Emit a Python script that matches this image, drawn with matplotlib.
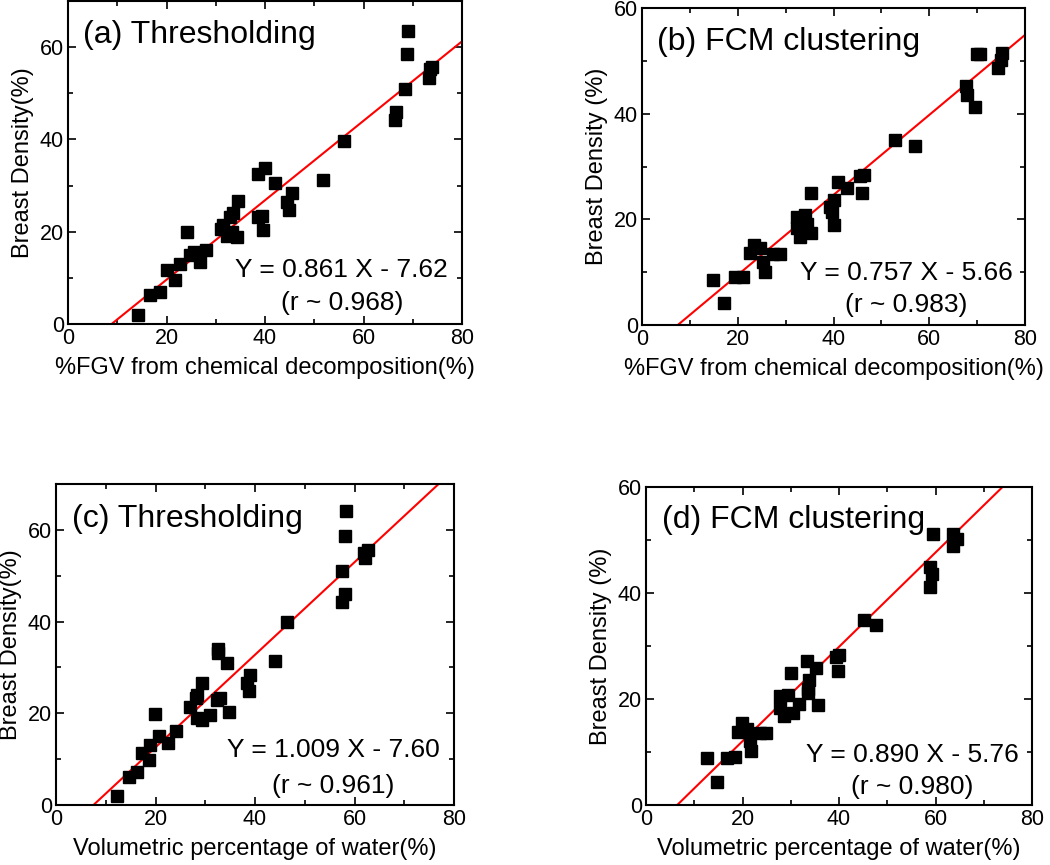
import numpy as np
import matplotlib
matplotlib.use('Agg')
import matplotlib.pyplot as plt
from matplotlib.ticker import MultipleLocator

plt.rcParams['font.family'] = ['Liberation Sans', 'DejaVu Sans']

# (a) thresholding vs %FGV
fgv_a = [14.3, 16.6, 18.7, 20.0, 21.7, 22.7, 24.8, 25.5, 26.8, 24.1,
         28.0, 31.0, 31.5, 32.9, 33.6, 34.5, 32.2, 34.3, 33.2, 38.5,
         39.4, 39.5, 38.6, 40.1, 42.0, 45.5, 44.5, 44.9, 51.8, 56.0,
         66.4, 66.7, 68.4, 68.8, 69.1, 73.2, 73.5, 74.0]
thr_a = [1.9, 6.3, 7.0, 11.7, 9.6, 13.1, 14.9, 15.5, 13.5, 19.9,
         16.1, 20.5, 21.4, 23.2, 24.0, 26.6, 19.0, 18.9, 19.9, 23.1,
         23.5, 20.3, 32.5, 33.8, 30.6, 28.4, 26.4, 24.8, 31.2, 39.7,
         44.2, 45.9, 50.9, 58.5, 63.6, 53.4, 55.2, 55.8]

# (b) FCM vs %FGV
fgv_b = [14.9, 17.1, 19.4, 21.2, 22.6, 23.4, 24.6, 25.3, 25.6, 27.4,
         28.8, 32.3, 32.3, 32.9, 34.0, 34.4, 35.2, 35.2, 39.3, 39.6,
         40.2, 40.2, 40.9, 42.8, 45.5, 46.4, 45.9, 52.8, 57.0, 67.6,
         67.8, 69.6, 70.0, 70.5, 74.4, 75.0, 75.1]
fcm_b = [8.6, 4.2, 9.0, 9.1, 13.6, 15.1, 14.5, 12.0, 10.1, 13.4,
         13.4, 20.5, 18.3, 16.7, 20.8, 19.2, 24.9, 17.4, 22.4, 21.3,
         23.7, 18.9, 27.1, 25.9, 28.2, 28.4, 25.0, 35.0, 33.9, 45.2,
         43.5, 41.2, 51.2, 51.2, 48.7, 50.2, 51.4]

# (c) thresholding vs water
water_c = [12.2, 14.7, 16.2, 17.2, 18.6, 18.9, 20.8, 22.6, 19.9, 24.1,
           26.9, 28.1, 28.3, 29.3, 28.3, 31.0, 29.3, 32.6, 32.6, 34.3,
           33.0, 32.4, 34.8, 39.0, 38.3, 38.7, 44.0, 46.5, 57.5, 58.0,
           58.3, 58.1, 57.5, 62.1, 62.8, 61.9]
thr_c = [2.0, 6.2, 7.1, 11.3, 9.8, 13.1, 15.1, 13.5, 19.9, 16.2,
         21.4, 23.3, 24.0, 26.7, 19.0, 19.7, 18.6, 33.2, 34.0, 31.0,
         23.3, 23.0, 20.2, 28.4, 26.6, 24.8, 31.3, 39.8, 51.0, 58.7,
         64.1, 46.1, 44.2, 53.9, 55.7, 55.0]

# (d) FCM vs water
water_d = [12.7, 14.7, 16.7, 18.4, 19.8, 19.1, 20.9, 21.6, 21.8, 23.6, 24.9,
           27.8, 27.8, 28.7, 29.5, 30.5, 30.0, 31.8, 33.4, 33.8, 33.6,
           33.6, 35.2, 35.7, 39.4, 40.1, 39.7, 45.2, 47.6, 58.9, 59.3,
           58.9, 59.4, 63.6, 64.4, 63.6]
fcm_d = [8.8, 4.3, 8.9, 9.1, 15.5, 13.8, 14.4, 12.1, 10.2, 13.5, 13.5,
         20.5, 18.3, 16.8, 20.8, 17.4, 25.0, 19.1, 27.1, 23.6, 21.9,
         21.2, 25.8, 18.9, 28.0, 28.3, 25.2, 34.9, 34.0, 44.9, 43.5,
         41.1, 51.2, 48.8, 50.2, 51.2]

# fit parameters (slope, intercept, r)
fits = [(0.861, -7.62, 0.968), (0.757, -5.66, 0.983),
        (1.009, -7.60, 0.961), (0.890, -5.76, 0.980)]
titles = ['(a) Thresholding', '(b) FCM clustering', '(c) Thresholding', '(d) FCM clustering']
xlabels = ['%FGV from chemical decomposition(%)', '%FGV from chemical decomposition(%)',
           'Volumetric percentage of water(%)', 'Volumetric percentage of water(%)']
ylabels = ['Breast Density(%)', 'Breast Density (%)', 'Breast Density(%)', 'Breast Density (%)']
ylims = [70, 60, 70, 60]

xs = [fgv_a, fgv_b, water_c, water_d]
ys = [thr_a, fcm_b, thr_c, fcm_d]

W, H = 1050, 865
# axes boxes in pixels: left, top, right, bottom
boxes = [(68, 1, 462, 324), (642, 8, 1025, 325), (56, 484, 454, 805), (646, 487, 1032, 805)]
# text placement in axes fraction
eq_pos = [(0.695, 0.145, 0.043), (0.69, 0.142, 0.042), (0.696, 0.15, 0.036), (0.69, 0.136, 0.035)]
title_pos = [(0.038, 0.87), (0.039, 0.867), (0.04, 0.866), (0.041, 0.871)]

fig = plt.figure(figsize=(W / 100, H / 100), dpi=100)

for i in range(4):
    l, t, r, b = boxes[i]
    ax = fig.add_axes([l / W, (H - b) / H, (r - l) / W, (b - t) / H])
    ax.plot(xs[i], ys[i], 's', color='black', markersize=8, zorder=3)

    slope, icpt, rr = fits[i]
    xx = np.array([0, 80])
    ax.plot(xx, slope * xx + icpt, color='red', linewidth=1.5, zorder=2)

    ax.set_xlim(0, 80)
    ax.set_ylim(0, ylims[i])
    ax.xaxis.set_major_locator(MultipleLocator(20))
    ax.xaxis.set_minor_locator(MultipleLocator(10))
    ax.yaxis.set_major_locator(MultipleLocator(20))
    ax.yaxis.set_minor_locator(MultipleLocator(10))
    ax.tick_params(which='both', direction='in', top=True, right=True, width=1.2, labelsize=15.5, pad=3)
    ax.tick_params(which='major', length=6)
    ax.tick_params(which='minor', length=3.5)
    for s in ax.spines.values():
        s.set_linewidth(1.5)

    ax.set_xlabel(xlabels[i], fontsize=17, labelpad=6)
    ax.set_ylabel(ylabels[i], fontsize=17, labelpad=4)

    tx, ty = title_pos[i]
    ax.text(tx, ty, titles[i], transform=ax.transAxes, fontsize=23, ha='left', va='baseline')
    cx, b1, b2 = eq_pos[i]
    sign = '-' if icpt < 0 else '+'
    ax.text(cx, b1, 'Y = %.3f X %s %.2f' % (slope, sign, abs(icpt)), transform=ax.transAxes,
            fontsize=19, ha='center', va='baseline')
    ax.text(cx, b2, '(r ~ %.3f)' % rr, transform=ax.transAxes,
            fontsize=19, ha='center', va='baseline')

plt.savefig('out.png', dpi=100)
